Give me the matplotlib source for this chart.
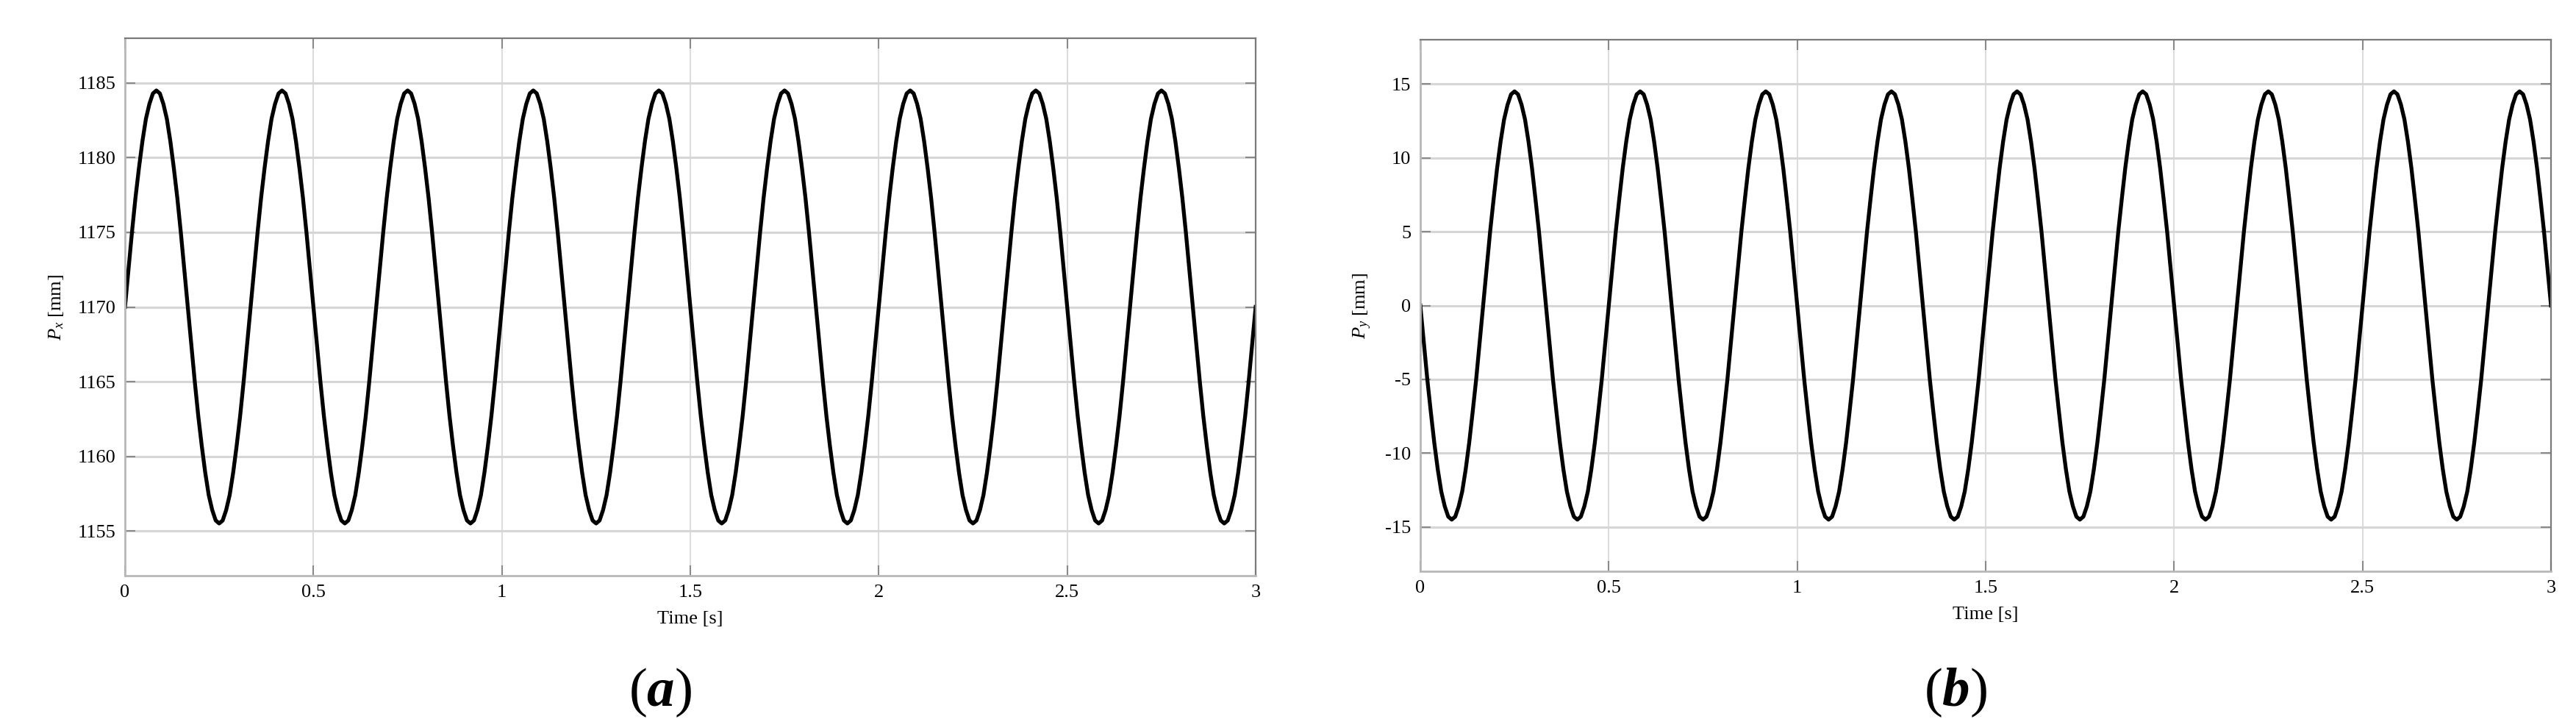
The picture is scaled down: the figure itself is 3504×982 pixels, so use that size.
import numpy as np
import matplotlib
matplotlib.use("Agg")
import matplotlib.pyplot as plt

plt.rcParams['font.family'] = ['Liberation Serif', 'DejaVu Serif']
plt.rcParams['mathtext.fontset'] = 'custom'
plt.rcParams['mathtext.rm'] = 'Liberation Serif'
plt.rcParams['mathtext.it'] = 'Liberation Serif:italic'
plt.rcParams['mathtext.bf'] = 'Liberation Serif:bold:italic'
plt.rcParams['axes.unicode_minus'] = False

# one cycle (1/3 s), 36 readings per cycle; the chart repeats it 9 times
n_cycles = 9
t_end = 3.0
px_cycle = [1170.0, 1172.5, 1175.0, 1177.3, 1179.3, 1181.1, 1182.6, 1183.6, 1184.3,
            1184.5, 1184.3, 1183.6, 1182.6, 1181.1, 1179.3, 1177.3, 1175.0, 1172.5,
            1170.0, 1167.5, 1165.0, 1162.7, 1160.7, 1158.9, 1157.4, 1156.4, 1155.7,
            1155.5, 1155.7, 1156.4, 1157.4, 1158.9, 1160.7, 1162.7, 1165.0, 1167.5]
py_cycle = [0.0, -2.5, -5.0, -7.2, -9.3, -11.1, -12.6, -13.6, -14.3,
            -14.5, -14.3, -13.6, -12.6, -11.1, -9.3, -7.2, -5.0, -2.5,
            0.0, 2.5, 5.0, 7.2, 9.3, 11.1, 12.6, 13.6, 14.3,
            14.5, 14.3, 13.6, 12.6, 11.1, 9.3, 7.2, 5.0, 2.5]

x_ticks = [0, 0.5, 1, 1.5, 2, 2.5, 3]
x_ticklabels = ['0', '0.5', '1', '1.5', '2', '2.5', '3']
px_ticks = [1155, 1160, 1165, 1170, 1175, 1180, 1185]
py_ticks = [-15, -10, -5, 0, 5, 10, 15]

px = np.append(np.tile(px_cycle, n_cycles), px_cycle[0])
py = np.append(np.tile(py_cycle, n_cycles), py_cycle[0])
time = np.linspace(0, t_end, len(px))

fs = 19
W, H = 3504, 982
fig = plt.figure(figsize=(W / 100, H / 100), dpi=100)


def style_axes(ax, yticks, ylim, ylabel):
    ax.set_xlim(0, t_end)
    ax.set_ylim(*ylim)
    ax.set_xticks(x_ticks)
    ax.set_xticklabels(x_ticklabels)
    ax.set_yticks(yticks)
    ax.tick_params(direction='in', length=10, width=1.5, color='#8a8a8a',
                   top=True, right=True, labelsize=fs, pad=9)
    ax.yaxis.grid(True, color='#d6d6d6', linewidth=2.2)
    ax.xaxis.grid(True, color='#d6d6d6', linewidth=1.2)
    ax.set_axisbelow(True)
    for s in ['left', 'bottom']:
        ax.spines[s].set_color('#b8b8b8')
        ax.spines[s].set_linewidth(2)
    for s in ['top', 'right']:
        ax.spines[s].set_color('#7a7a7a')
        ax.spines[s].set_linewidth(1.6)
    ax.set_xlabel('Time [s]', fontsize=fs, labelpad=10)
    ax.set_ylabel(ylabel, fontsize=fs, labelpad=12)


ax1 = fig.add_axes([170 / W, 1 - 783 / H, 1538 / W, 731 / H])
ax1.plot(time, px, color='black', linewidth=3.8, solid_joinstyle='round')
style_axes(ax1, px_ticks, (1152, 1188), r'$P_x$ [mm]')

ax2 = fig.add_axes([1932 / W, 1 - 777 / H, 1538 / W, 723 / H])
ax2.plot(time, py, color='black', linewidth=3.8, solid_joinstyle='round')
style_axes(ax2, py_ticks, (-18, 18), r'$P_y$ [mm]')

fig.text(898 / W, 1 - 942 / H, r'$(\mathbf{a})$', fontsize=54, ha='center', va='center')
fig.text(2660 / W, 1 - 942 / H, r'$(\mathbf{b})$', fontsize=54, ha='center', va='center')

fig.savefig('out.png', dpi=100)
